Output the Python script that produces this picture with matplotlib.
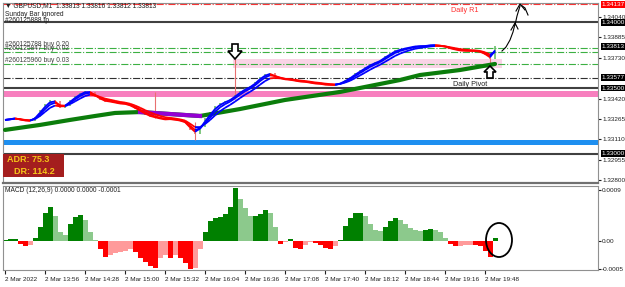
import numpy as np
import pandas as pd
import matplotlib
matplotlib.use('Agg')
import matplotlib.pyplot as plt
from matplotlib.collections import LineCollection
from matplotlib.patches import Ellipse, Rectangle, Polygon

plt.rcParams['font.family'] = ['Liberation Sans', 'DejaVu Sans']

# GBPUSD M1, sampled every 4 minutes from 13:24
closes = [1.33257, 1.33264, 1.33272, 1.33257, 1.33249, 1.33249, 1.33279, 1.33333, 1.33378, 1.33409,
          1.33401, 1.33348, 1.33363, 1.33409, 1.33439, 1.33462, 1.33477, 1.33470, 1.33432, 1.33409,
          1.33394, 1.33394, 1.33386, 1.33378, 1.33378, 1.33363, 1.33340, 1.33317, 1.33295, 1.33279,
          1.33272, 1.33264, 1.33257, 1.33264, 1.33257, 1.33249, 1.33234, 1.33181, 1.33150, 1.33203,
          1.33272, 1.33317, 1.33363, 1.33386, 1.33401, 1.33416, 1.33447, 1.33477, 1.33500, 1.33515,
          1.33546, 1.33584, 1.33607, 1.33614, 1.33584, 1.33569, 1.33561, 1.33561, 1.33553, 1.33546,
          1.33546, 1.33538, 1.33531, 1.33531, 1.33523, 1.33523, 1.33523, 1.33538, 1.33561, 1.33584,
          1.33614, 1.33637, 1.33660, 1.33683, 1.33698, 1.33713, 1.33744, 1.33766, 1.33789, 1.33797,
          1.33805, 1.33812, 1.33820, 1.33820, 1.33820, 1.33827, 1.33827, 1.33820, 1.33812, 1.33797,
          1.33789, 1.33782, 1.33782, 1.33782, 1.33782, 1.33774, 1.33751, 1.33721, 1.33813]

spike_idx = [30, 38, 46, 97]
spike_hi = [1.33470, 1.33240, 1.33721, 1.33760]
spike_lo = [1.33270, 1.33104, 1.33420, 1.33668]

ma_idx = [0, 7, 13, 18, 22, 27, 33, 39, 47, 56, 67, 79, 83, 91, 98]
ma_val = [1.33181, 1.33219, 1.33257, 1.33287, 1.33310, 1.33317, 1.33302, 1.33287, 1.33340, 1.33409,
          1.33470, 1.33561, 1.33599, 1.33637, 1.33683]

# MACD histogram, x 1e-4
macd = [0.2, 0.3, 0.3, -0.5, -1.0, -0.8, 0.5, 2.5, 5.0, 6.1,
        4.5, 1.5, 1.0, 3.0, 4.2, 4.7, 3.8, 1.5, 0.2, -1.5,
        -2.8, -2.5, -2.2, -2.0, -1.8, -1.5, -2.0, -3.0, -3.8, -4.5,
        -4.8, -3.0, -2.5, -3.0, -2.5, -3.0, -4.0, -5.0, -4.8, -1.5,
        1.5, 3.5, 4.0, 4.3, 4.8, 6.0, 9.5, 7.5, 5.8, 4.5,
        4.5, 4.8, 5.5, 5.0, 2.5, -0.5, -0.2, 0.3, -1.2, -1.5,
        -0.8, -0.2, -0.3, -0.8, -1.2, -1.5, -1.0, 0.1, 2.7, 4.0,
        5.0, 5.0, 4.5, 3.0, 2.0, 1.8, 2.5, 3.5, 4.0, 3.8,
        3.0, 2.3, 2.0, 1.8, 2.0, 2.1, 1.9, 1.6, 0.6, -0.5,
        -1.0, -0.9, -0.8, -0.7, -0.8, -0.9, -1.8, -2.8, 0.5]

time_ticks = [0, 8, 16, 24, 32, 40, 48, 56, 64, 72, 80, 88, 96]
time_labels = ["2 Mar 2022", "2 Mar 13:56", "2 Mar 14:28", "2 Mar 15:00", "2 Mar 15:32",
               "2 Mar 16:04", "2 Mar 16:36", "2 Mar 17:08", "2 Mar 17:40", "2 Mar 18:12",
               "2 Mar 18:44", "2 Mar 19:16", "2 Mar 19:48"]

price_ticks = [1.34040, 1.33885, 1.33730, 1.33420, 1.33265, 1.33110, 1.32955, 1.32800]

W, H = 625, 287
fig = plt.figure(figsize=(W / 100, H / 100), dpi=100)
fig.patch.set_facecolor('white')


def box(l, t, r, b):
    return [l / W, 1 - b / H, (r - l) / W, (b - t) / H]


ax = fig.add_axes(box(3, 3, 598, 183))
axm = fig.add_axes(box(3, 186, 598, 270))

x = np.arange(len(closes))
c = np.array(closes)

# horizontal levels
ax.axhline(1.34137, color='#ff3030', lw=0.8, ls='-.', zorder=1)
ax.axhline(1.34000, color='#404040', lw=1.5, zorder=1)
for lvl in [1.33805, 1.33774, 1.33683]:
    ax.axhline(lvl, color='#3cb043', lw=0.8, ls='-.', zorder=1)
ax.axhline(1.33577, color='#303030', lw=0.8, ls='-.', zorder=1)
ax.axhline(1.33500, color='#404040', lw=1.5, zorder=1)
ax.axhspan(1.33431, 1.33477, color='#f77fbe', lw=0, zorder=1)
ax.axhspan(1.33066, 1.33104, color='#1e8ff0', lw=0, zorder=1)
ax.axhline(1.33000, color='#404040', lw=1.5, zorder=1)
ax.add_patch(Rectangle((45.6, 1.33652), 53.8, 0.00069, color='#fad4e6', lw=0, zorder=0.5))

# candles (open = previous close)
opens = np.r_[c[0], c[:-1]]
up = c >= opens
ax.vlines(x[up], opens[up], c[up] + 0.00003, color='#5cb85c', lw=1.1, zorder=2)
ax.vlines(x[~up], opens[~up], c[~up] - 0.00003, color='#f06060', lw=1.1, zorder=2)
ax.vlines(spike_idx, spike_lo, spike_hi, color='#e87070', lw=0.8, zorder=2)

# long MA, green / purple
mi = np.array(ma_idx)
mv = np.array(ma_val)
ax.plot(mi, mv, color='#0b7d0b', lw=3, solid_capstyle='round', zorder=3)
flat = (mi >= 27) & (mi <= 39)
ax.plot(mi[flat], mv[flat], color='#9400d3', lw=3, zorder=3.1)

# ribbon of fast EMAs
emas = [pd.Series(closes).ewm(span=s).mean().values for s in (2, 3, 5)]
mid = emas[1]
seg_col = ['#0000ff' if mid[i + 1] >= mid[i] else '#ff0000' for i in range(len(mid) - 1)]
for e in emas:
    segs = [[(x[i], e[i]), (x[i + 1], e[i + 1])] for i in range(len(e) - 1)]
    ax.add_collection(LineCollection(segs, colors=seg_col, linewidths=1.3, zorder=4))

ax.set_xlim(-0.4, 118.6)
ax.set_ylim(1.32777, 1.34147)
ax.yaxis.tick_right()
ax.set_yticks(price_ticks)
ax.set_yticklabels([f"{p:.5f}" for p in price_ticks])
ax.tick_params(axis='y', labelsize=4.6, length=2, pad=1, colors='#202020')
ax.set_xticks([])
for s in ax.spines.values():
    s.set_color('#909090')
    s.set_linewidth(0.8)
ax.spines['bottom'].set_linewidth(1.6)
ax.spines['bottom'].set_color('#707070')

tr = ax.get_yaxis_transform()
for p, fc in [(1.34137, '#ff0000'), (1.34000, 'black'), (1.33813, 'black'),
              (1.33577, 'black'), (1.33500, 'black'), (1.33000, 'black')]:
    ax.text(1.006, p, f"{p:.5f}", transform=tr, fontsize=4.6, color='white', va='center', ha='left',
            bbox=dict(boxstyle='square,pad=0.15', fc=fc, ec='none'), clip_on=False)

# MACD histogram
m = np.array(macd) * 1e-4
d = np.r_[0, np.diff(m)]
cols = []
for v, dv in zip(m, d):
    if v >= 0:
        cols.append('#008000' if dv >= 0 else '#8cc98c')
    else:
        cols.append('#ff0000' if dv <= 0 else '#ff9a9a')
axm.bar(x, m, width=1.0, color=cols, lw=0)
axm.set_xlim(-0.4, 118.6)
axm.set_ylim(-0.00052, 0.00098)
axm.yaxis.tick_right()
axm.set_yticks([0.0009, 0.0, -0.0005])
axm.set_yticklabels(['0.0009', '0.00', '-0.0005'])
axm.tick_params(axis='y', labelsize=4.6, length=2, pad=1, colors='#202020')
axm.set_xticks(time_ticks)
axm.set_xticklabels(time_labels, ha='left')
axm.tick_params(axis='x', labelsize=4.6, length=3, pad=2, colors='#202020')
for s in axm.spines.values():
    s.set_color('#909090')
    s.set_linewidth(0.8)

# overlay in pixel coordinates for texts and drawings
ov = fig.add_axes([0, 0, 1, 1])
ov.set_xlim(0, W)
ov.set_ylim(H, 0)
ov.axis('off')
fs = 4.8
ov.text(5, 6, "\u25bc GBPUSD,M1  1.33813 1.33816 1.33812 1.33813", fontsize=fs, va='center', color='#202020')
ov.text(5, 14, "Sunday Bar ignored", fontsize=fs, va='center', color='#202020')
ov.text(5, 20, "#260125888 tp", fontsize=fs, va='center', color='#202020')
ov.text(5, 45, "#260125788 buy 0.20", fontsize=fs, va='center', color='#404040')
ov.text(5, 48.5, "#260125847 buy 0.02", fontsize=fs, va='center', color='#404040')
ov.text(5, 61, "#260125960 buy 0.03", fontsize=fs, va='center', color='#404040')
ov.text(465, 10, "Daily R1", fontsize=5.2, va='center', ha='center', color='#ff3030')
ov.text(470, 84, "Daily Pivot", fontsize=5.2, va='center', ha='center', color='#202020')
ov.text(5, 191, "MACD (12,26,9) 0.0000 0.0000 -0.0001", fontsize=fs, va='center', color='#202020')

ov.add_patch(Rectangle((3, 154), 61, 23, color='#a41e1e', lw=0))
ov.text(7, 160, "ADR: 75.3", fontsize=6.5, va='center', color='#f5c518', fontweight='bold')
ov.text(14, 171, "DR: 114.2", fontsize=6.5, va='center', color='#f5c518', fontweight='bold')

ov.add_patch(Polygon([(232, 44), (238, 44), (238, 51), (242, 51), (235, 59), (228, 51), (232, 51)],
                     closed=True, fc='white', ec='black', lw=1.2))
ov.add_patch(Polygon([(490, 66), (496, 72), (493, 72), (493, 78), (487, 78), (487, 72), (484, 72)],
                     closed=True, fc='white', ec='black', lw=1.2))

k = dict(color='black', lw=0.8)
ov.plot([502, 506, 510, 513, 515], [51, 47, 40, 32, 24], **k)
ov.plot([511, 515, 518], [30, 23, 29], **k)
ov.plot([515, 517, 520], [25, 16, 6], **k)
ov.plot([516, 520, 525], [11, 4, 10], **k)
ov.plot([521, 525, 528], [5, 8, 15], **k)
ov.add_patch(Ellipse((499, 240), 26, 34, fill=False, ec='black', lw=1.3))

fig.savefig('out.png', dpi=100)
